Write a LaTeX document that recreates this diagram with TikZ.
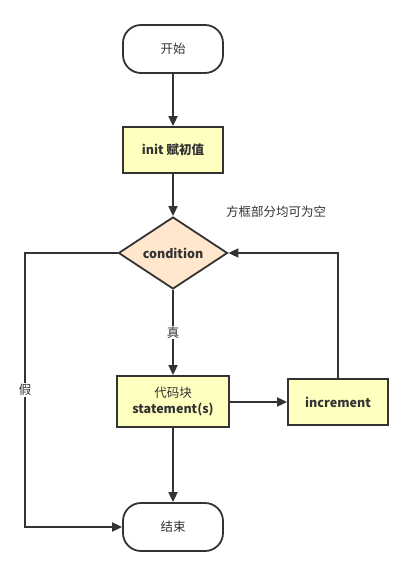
\documentclass[tikz,border=0pt]{standalone}
\usepackage{fontspec}
\setmainfont{Noto Sans CJK SC}
\usetikzlibrary{shapes.geometric,arrows.meta}
\definecolor{ln}{HTML}{333333}
\definecolor{yel}{HTML}{FFFFC0}
\definecolor{peach}{HTML}{FFE6CC}
\begin{document}
\begin{tikzpicture}[x=1pt,y=-1pt,
  base/.style={draw=ln,line width=1.8pt,text=ln,font=\fontsize{12.5}{15}\selectfont,align=center,inner sep=0pt},
  term/.style={base,rounded corners=18pt,minimum width=100pt,minimum height=48pt,fill=white},
  proc/.style={base,fill=yel,font=\fontsize{12.5}{16}\selectfont\bfseries},
  dec/.style={base,diamond,fill=peach,minimum width=109pt,minimum height=72pt,aspect=1.5,font=\fontsize{12.5}{15}\selectfont\bfseries},
  conn/.style={draw=ln,line width=1.8pt,-{Triangle[length=10pt,width=9pt]}},
  lbl/.style={text=ln,font=\fontsize{12.5}{15}\selectfont,fill=white,inner sep=1pt}]
\useasboundingbox (0,0) rectangle (412,577);
\node[term] (start) at (173,49) {开始};
\node[proc,minimum width=100pt,minimum height=46pt] (init) at (173,150) {init 赋初值};
\node[dec] (cond) at (173,253) {condition};
\node[proc,minimum width=112pt,minimum height=51pt] (stmt) at (173,401.5) {\mdseries 代码块\\statement(s)};
\node[proc,minimum width=100pt,minimum height=46pt] (inc) at (338,402) {increment};
\node[term] (end) at (173,527) {结束};
\node[text=ln,font=\fontsize{12.5}{15}\selectfont] (note) at (276,212) {方框部分均可为空};
\coordinate (fl) at (25,253);
\coordinate (fb) at (25,527);
\coordinate (ir) at (338,253);
\draw[conn] (start) -- (init);
\draw[conn] (init) -- (cond);
\draw[conn] (cond) -- node[lbl,pos=0.5] {真} (stmt);
\draw[conn] (stmt.east |- inc.west) -- (inc.west);
\draw[conn] (stmt) -- (end);
\draw[conn] (inc.north) -- (ir) -- (cond.east);
\draw[conn] (cond.west) -- (fl) -- node[lbl,pos=0.5] {假} (fb) -- (end.west);
\end{tikzpicture}
\end{document}
